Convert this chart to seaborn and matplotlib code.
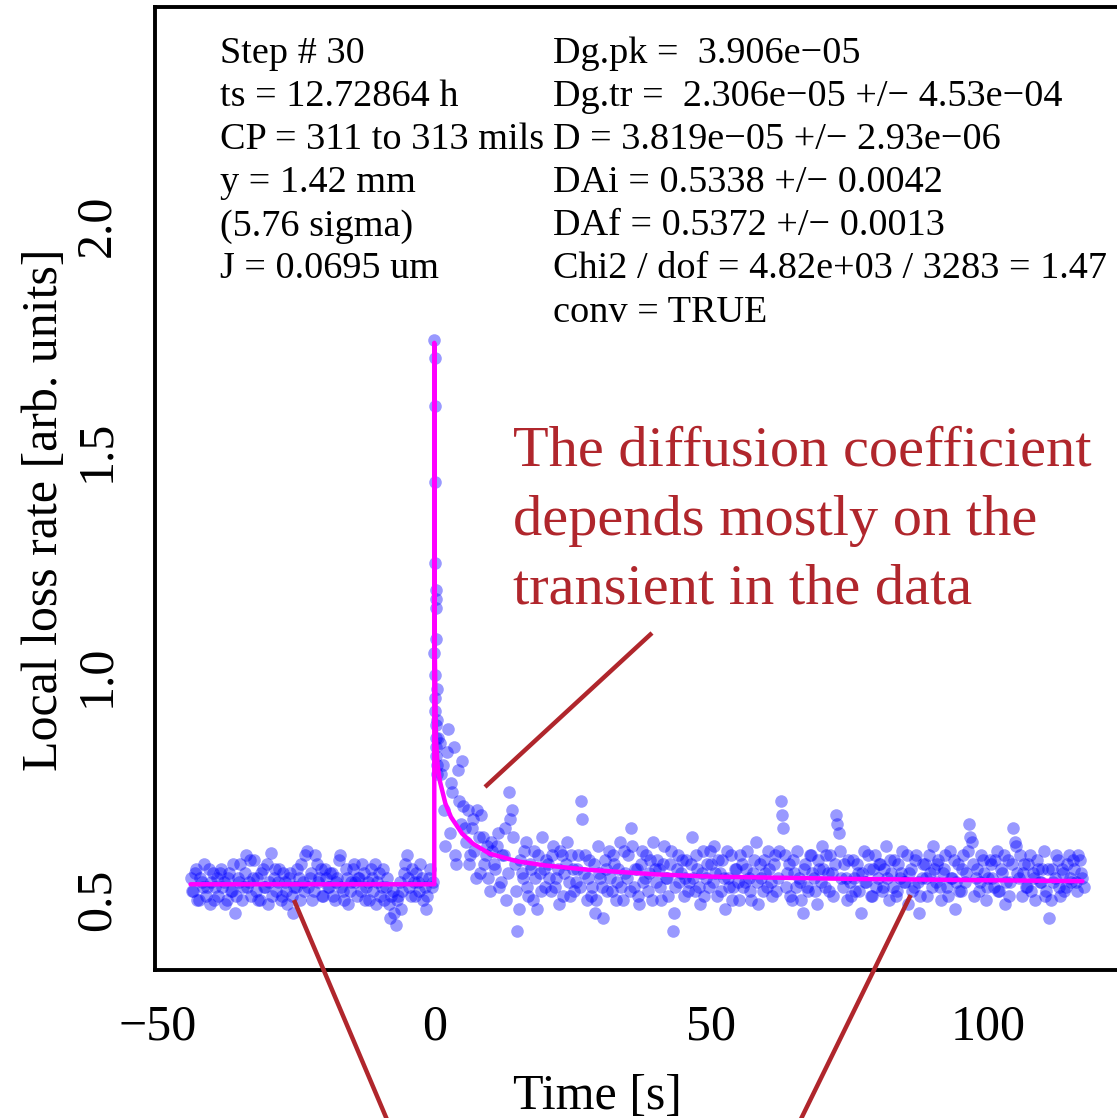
import numpy as np
import pandas as pd
import matplotlib
matplotlib.use("Agg")
import matplotlib.pyplot as plt
import seaborn as sns

# ---------------- data ----------------
# baseline before the step: two interleaved sample sets, 0.5 s apart each
pre_start, pre_step = -44.0, 0.5
pre_vals = [
    0.55, 0.52, 0.57, 0.50, 0.54, 0.58, 0.53, 0.49, 0.56, 0.53,
    0.51, 0.57, 0.54, 0.50, 0.56, 0.52, 0.47, 0.55, 0.58, 0.53,
    0.60, 0.54, 0.51, 0.59, 0.55, 0.50, 0.57, 0.53, 0.49, 0.605,
    0.55, 0.52, 0.57, 0.51, 0.54, 0.49, 0.56, 0.47, 0.53, 0.55,
    0.58, 0.52, 0.61, 0.55, 0.50, 0.60, 0.54, 0.57, 0.51, 0.55,
    0.53, 0.56, 0.50, 0.55, 0.60, 0.52, 0.57, 0.49, 0.54, 0.58,
    0.51, 0.55, 0.58, 0.50, 0.54, 0.57, 0.52, 0.49, 0.56, 0.53,
    0.50, 0.55, 0.46, 0.52, 0.445, 0.51, 0.48, 0.56, 0.60, 0.53,
    0.57, 0.51, 0.54, 0.58, 0.50, 0.48, 0.55, 0.53,
]
pre_vals_b = [
    0.52, 0.56, 0.50, 0.55, 0.53, 0.51, 0.57, 0.54, 0.50, 0.55,
    0.56, 0.53, 0.49, 0.55, 0.52, 0.58, 0.51, 0.54, 0.50, 0.56,
    0.53, 0.59, 0.55, 0.52, 0.50, 0.56, 0.53, 0.58, 0.54, 0.51,
    0.57, 0.54, 0.50, 0.56, 0.52, 0.55, 0.51, 0.53, 0.57, 0.50,
    0.54, 0.60, 0.53, 0.56, 0.52, 0.58, 0.55, 0.51, 0.57, 0.53,
    0.56, 0.51, 0.54, 0.59, 0.53, 0.50, 0.55, 0.52, 0.57, 0.54,
    0.55, 0.52, 0.56, 0.53, 0.50, 0.55, 0.58, 0.54, 0.51, 0.57,
    0.53, 0.49, 0.51, 0.47, 0.50, 0.54, 0.52, 0.58, 0.55, 0.51,
    0.54, 0.56, 0.52, 0.55, 0.53, 0.51, 0.57, 0.54,
]
# the transient right after the step (first half second)
tr_times = [0.0, 0.05, 0.10, 0.15, 0.20, 0.25, 0.30, 0.35, 0.40, 0.45,
            0.02, 0.07, 0.12, 0.17, 0.22, 0.27, 0.32, 0.37, 0.42, 0.47]
tr_vals = [1.746, 1.706, 1.60, 1.43, 1.25, 1.19, 1.17, 1.15, 1.08, 0.97,
           1.05, 1.00, 0.95, 0.92, 0.89, 0.86, 0.84, 0.82, 0.80, 0.78]
# after the step: two interleaved sample sets, 0.5 s apart each
post_start, post_step = 0.5, 0.5
post_vals = [
    0.90, 0.85, 0.80, 0.62, 0.88, 0.76, 0.84, 0.58, 0.72, 0.81,
    0.66, 0.70, 0.60, 0.68, 0.55, 0.64, 0.69, 0.58, 0.62, 0.52,
    0.61, 0.57, 0.65, 0.54, 0.60, 0.50, 0.74, 0.70, 0.58, 0.43,
    0.59, 0.55, 0.63, 0.51, 0.57, 0.61, 0.48, 0.56, 0.64, 0.53,
    0.58, 0.52, 0.62, 0.55, 0.49, 0.60, 0.56, 0.63, 0.51, 0.57,
    0.54, 0.60, 0.72, 0.56, 0.50, 0.59, 0.53, 0.47, 0.62, 0.55,
    0.46, 0.57, 0.61, 0.52, 0.58, 0.54, 0.63, 0.50, 0.56, 0.60,
    0.66, 0.53, 0.57, 0.49, 0.61, 0.55, 0.52, 0.59, 0.63, 0.54,
    0.57, 0.50, 0.62, 0.55, 0.58, 0.43, 0.53, 0.60, 0.56, 0.51,
    0.59, 0.54, 0.64, 0.52, 0.57, 0.49, 0.61, 0.55, 0.53, 0.58,
    0.62, 0.51, 0.56, 0.59, 0.48, 0.55, 0.60, 0.53, 0.57, 0.50,
    0.58, 0.54, 0.61, 0.52, 0.56, 0.63, 0.49, 0.55, 0.59, 0.53,
    0.57, 0.51, 0.60, 0.55, 0.72, 0.66, 0.53, 0.58, 0.50, 0.56,
    0.61, 0.54, 0.47, 0.58, 0.52, 0.60, 0.55, 0.49, 0.57, 0.62,
    0.53, 0.56, 0.60, 0.51, 0.69, 0.65, 0.55, 0.58, 0.50, 0.54,
    0.59, 0.52, 0.56, 0.47, 0.61, 0.54, 0.57, 0.51, 0.60, 0.55,
    0.58, 0.53, 0.62, 0.50, 0.56, 0.59, 0.52, 0.55, 0.61, 0.54,
    0.49, 0.57, 0.53, 0.60, 0.47, 0.55, 0.58, 0.51, 0.56, 0.62,
    0.54, 0.59, 0.50, 0.57, 0.53, 0.61, 0.55, 0.48, 0.58, 0.52,
    0.60, 0.56, 0.67, 0.63, 0.51, 0.57, 0.54, 0.59, 0.50, 0.55,
    0.58, 0.53, 0.61, 0.52, 0.56, 0.49, 0.59, 0.54, 0.66, 0.62,
    0.55, 0.51, 0.58, 0.53, 0.60, 0.56, 0.50, 0.57, 0.54, 0.61,
    0.52, 0.46, 0.57, 0.55, 0.59, 0.51, 0.56, 0.53, 0.60, 0.54,
    0.57, 0.52, 0.59, 0.55,
]
post_vals_b = [
    0.86, 0.78, 0.70, 0.83, 0.65, 0.74, 0.60, 0.79, 0.67, 0.71,
    0.63, 0.58, 0.66, 0.61, 0.70, 0.56, 0.64, 0.60, 0.55, 0.63,
    0.58, 0.62, 0.53, 0.60, 0.66, 0.56, 0.68, 0.64, 0.52, 0.48,
    0.56, 0.61, 0.53, 0.58, 0.50, 0.55, 0.60, 0.52, 0.57, 0.59,
    0.55, 0.60, 0.53, 0.57, 0.61, 0.51, 0.58, 0.54, 0.60, 0.52,
    0.57, 0.53, 0.68, 0.60, 0.55, 0.51, 0.58, 0.50, 0.56, 0.53,
    0.59, 0.52, 0.55, 0.60, 0.50, 0.57, 0.53, 0.61, 0.55, 0.52,
    0.62, 0.57, 0.51, 0.58, 0.54, 0.60, 0.56, 0.50, 0.57, 0.59,
    0.53, 0.58, 0.55, 0.51, 0.61, 0.47, 0.57, 0.54, 0.59, 0.55,
    0.52, 0.58, 0.55, 0.60, 0.53, 0.56, 0.51, 0.58, 0.61, 0.54,
    0.56, 0.59, 0.52, 0.55, 0.61, 0.53, 0.50, 0.57, 0.54, 0.60,
    0.53, 0.57, 0.55, 0.50, 0.59, 0.54, 0.58, 0.52, 0.56, 0.61,
    0.54, 0.58, 0.52, 0.61, 0.69, 0.60, 0.56, 0.51, 0.59, 0.53,
    0.55, 0.50, 0.57, 0.53, 0.60, 0.56, 0.52, 0.59, 0.54, 0.57,
    0.60, 0.52, 0.56, 0.58, 0.67, 0.61, 0.53, 0.55, 0.59, 0.51,
    0.55, 0.58, 0.52, 0.56, 0.54, 0.60, 0.51, 0.57, 0.53, 0.58,
    0.52, 0.57, 0.55, 0.59, 0.53, 0.51, 0.58, 0.56, 0.54, 0.60,
    0.56, 0.52, 0.59, 0.54, 0.51, 0.58, 0.55, 0.60, 0.53, 0.57,
    0.58, 0.53, 0.56, 0.60, 0.51, 0.55, 0.59, 0.54, 0.52, 0.57,
    0.54, 0.61, 0.64, 0.58, 0.55, 0.52, 0.60, 0.56, 0.53, 0.59,
    0.55, 0.59, 0.52, 0.57, 0.60, 0.54, 0.51, 0.58, 0.63, 0.56,
    0.60, 0.56, 0.53, 0.58, 0.52, 0.55, 0.59, 0.54, 0.57, 0.51,
    0.57, 0.50, 0.54, 0.60, 0.53, 0.57, 0.52, 0.58, 0.55, 0.59,
    0.54, 0.60, 0.56, 0.53,
]
# fitted model curve
fit_t = [-44.0, 0.0, 0.0, 0.1, 0.3, 0.6, 1.0, 2.0, 3.0, 5.0, 7.0, 10.0,
         15.0, 20.0, 28.0, 40.0, 50.0, 75.0, 100.0, 117.0]
fit_y = [0.535, 0.535, 1.74, 1.05, 0.86, 0.80, 0.765, 0.715, 0.685, 0.648,
         0.625, 0.603, 0.586, 0.577, 0.567, 0.557, 0.552, 0.547, 0.544, 0.542]

x_ticks = [-50, 0, 50, 100]
y_ticks = [0.5, 1.0, 1.5, 2.0]

left_lines = ["Step # 30", "ts = 12.72864 h", "CP = 311 to 313 mils",
              "y = 1.42 mm", "(5.76 sigma)", "J = 0.0695 um"]
right_lines = ["Dg.pk =  3.906e\u221205",
               "Dg.tr =  2.306e\u221205 +/\u2212 4.53e\u221204",
               "D = 3.819e\u221205 +/\u2212 2.93e\u221206",
               "DAi = 0.5338 +/\u2212 0.0042",
               "DAf = 0.5372 +/\u2212 0.0013",
               "Chi2 / dof = 4.82e+03 / 3283 = 1.47",
               "conv = TRUE"]
note_lines = ["The diffusion coefficient", "depends mostly on the",
              "transient in the data"]

# ---------------- assemble ----------------
pre_t = pre_start + pre_step * np.arange(len(pre_vals))
pre_t_b = pre_t + pre_step / 2
post_t = post_start + post_step * np.arange(len(post_vals))
post_t_b = post_t + post_step / 2
df = pd.DataFrame({
    "t": np.concatenate([pre_t, pre_t_b, tr_times, post_t, post_t_b]),
    "y": np.concatenate([pre_vals, pre_vals_b, tr_vals, post_vals,
                         post_vals_b]),
})
fit_df = pd.DataFrame({"t": fit_t, "y": fit_y})

sns.set_theme(style="white")
plt.rcParams["font.family"] = ["Liberation Serif", "DejaVu Serif"]
plt.rcParams["axes.unicode_minus"] = True

W, H = 1117, 1118
fig = plt.figure(figsize=(W / 100, H / 100), dpi=100)
fig.patch.set_facecolor("white")

xlim = (-50.5, 123.5)
ylim = (0.3442, 2.4885)
ax_left, ax_right = 154.5, 1118.5
ax_top, ax_bot = 6.5, 970.0
ax = fig.add_axes([ax_left / W, 1 - ax_bot / H,
                   (ax_right - ax_left) / W, (ax_bot - ax_top) / H])
ax.set_facecolor("white")

sns.scatterplot(data=df, x="t", y="y", ax=ax, color="#0000FF", alpha=0.4,
                s=82, linewidth=0, legend=False, zorder=2)
sns.lineplot(data=fit_df, x="t", y="y", ax=ax, sort=False, estimator=None,
             color="#FF00FF", linewidth=3.2, zorder=3)

ax.set_xlim(*xlim)
ax.set_ylim(*ylim)
ax.set_xticks(x_ticks)
ax.set_yticks(y_ticks)
ax.set_xticklabels([f"{v:d}".replace("-", "\u2212") for v in x_ticks])
ax.set_yticklabels([f"{v:.1f}" for v in y_ticks])

for s in ax.spines.values():
    s.set_linewidth(2.8)
    s.set_color("black")
    s.set_visible(True)

ax.tick_params(axis="both", which="major", direction="out", length=10.5,
               width=2.2, color="black", labelsize=36, labelcolor="black")
ax.tick_params(axis="x", pad=14)
ax.tick_params(axis="y", pad=14, labelrotation=90)
for lab in ax.get_yticklabels():
    lab.set_verticalalignment("center")

ax.set_xlabel("Time [s]", fontsize=36, color="black")
ax.set_ylabel("Local loss rate [arb. units]", fontsize=36, color="black")
ax.xaxis.set_label_coords((597 - ax_left) / (ax_right - ax_left),
                          (ax_bot - 1073) / (ax_bot - ax_top))
ax.yaxis.set_label_coords((68 - ax_left) / (ax_right - ax_left),
                          (ax_bot - 510) / (ax_bot - ax_top))

# parameter text blocks
for i, s in enumerate(left_lines):
    fig.text(220 / W, 1 - (63 + 43.1 * i) / H, s, fontsize=27.5,
             ha="left", va="baseline", color="black")
for i, s in enumerate(right_lines):
    fig.text(553 / W, 1 - (63 + 43.1 * i) / H, s, fontsize=27.5,
             ha="left", va="baseline", color="black")

red = "#B0262C"
for i, s in enumerate(note_lines):
    fig.text(513 / W, 1 - (466 + 69 * i) / H, s, fontsize=42,
             ha="left", va="baseline", color=red)


def px2data(px, py):
    t = (px - ax_left) / (ax_right - ax_left) * (xlim[1] - xlim[0]) + xlim[0]
    y = (ax_bot - py) / (ax_bot - ax_top) * (ylim[1] - ylim[0]) + ylim[0]
    return t, y


for (p0, p1) in [((652, 633), (485, 787)),
                 ((294, 900), (388, 1122)),
                 ((910.7, 895), (799.5, 1122))]:
    a = px2data(*p0)
    b = px2data(*p1)
    ax.plot([a[0], b[0]], [a[1], b[1]], color=red, linewidth=3.2,
            clip_on=False, zorder=4, solid_capstyle="butt")

fig.savefig("out.png", dpi=100, facecolor="white")
